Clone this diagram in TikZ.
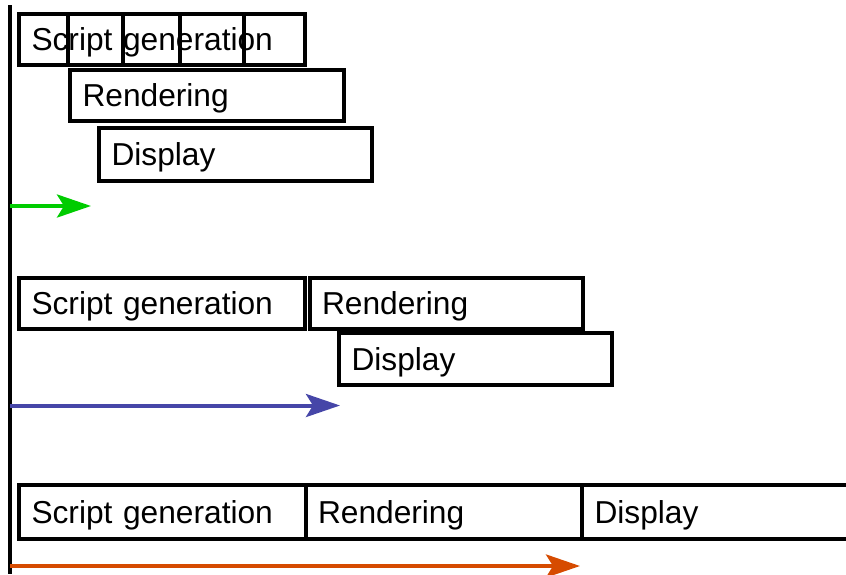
\documentclass[tikz,border=0pt]{standalone}
\usepackage{fontspec}
\setmainfont{Liberation Sans}
\usetikzlibrary{arrows.meta}
\definecolor{fastgreen}{RGB}{0,204,0}
\definecolor{midblue}{RGB}{70,70,168}
\definecolor{sloworange}{RGB}{214,75,0}
\tikzset{
  stage/.style={draw, line width=4pt, rectangle, anchor=north west, outer sep=0pt,
    inner ysep=0pt, inner xsep=12.5pt, align=left,
    text height=22.5pt, text depth=0pt,
    font=\fontsize{31.7}{38}\selectfont},
  timeline/.style={line width=4pt, -{Stealth[length=34pt, width=23pt, inset=7pt]}}
}
\newcommand{\stagebox}[6]{%
  % name, left, top, width, height, label
  \node[stage, minimum width=#4pt, minimum height=#5pt, text width=#4pt-25pt] (#1) at (#2,#3) {#6};}
\begin{document}
\begin{tikzpicture}[x=1pt, y=-1pt]
  \useasboundingbox (0,0) rectangle (846,574);

  % time axis
  \coordinate (axisTop) at (10,5);
  \coordinate (axisBot) at (10,574);
  \draw[line width=4pt] (axisTop) -- (axisBot);

  % pipelined frames, split script generation
  \stagebox{sgA}{19}{13.5}{285.5}{51.5}{Script generation}
  \foreach \dx in {48.5,104,160.5,224.5}
    \draw[line width=4pt] ([xshift=\dx pt]sgA.north west) -- ([xshift=\dx pt]sgA.south west);
  \stagebox{rA}{70}{70}{273.5}{51}{Rendering}
  \stagebox{dA}{99}{128}{272.5}{52.5}{Display}
  \coordinate (gS) at (10,206);
  \coordinate (gE) at (91,206);
  \draw[timeline, fastgreen] (gS) -- (gE);

  % rendering and display overlapped
  \stagebox{sgB}{19}{278}{285.5}{51}{Script generation}
  \stagebox{rB}{309.5}{278}{273}{51}{Rendering}
  \stagebox{dB}{339}{333}{273}{52}{Display}
  \coordinate (bS) at (10,405.5);
  \coordinate (bE) at (340,405.5);
  \draw[timeline, midblue] (bS) -- (bE);

  % fully sequential stages
  \stagebox{sgC}{19}{485}{286.5}{54}{Script generation}
  \stagebox{rC}{305.5}{485}{276.5}{54}{Rendering}
  \stagebox{dC}{582}{485}{280}{54}{Display}
  \coordinate (oS) at (10,566);
  \coordinate (oE) at (580,566);
  \draw[timeline, sloworange] (oS) -- (oE);
\end{tikzpicture}
\end{document}
